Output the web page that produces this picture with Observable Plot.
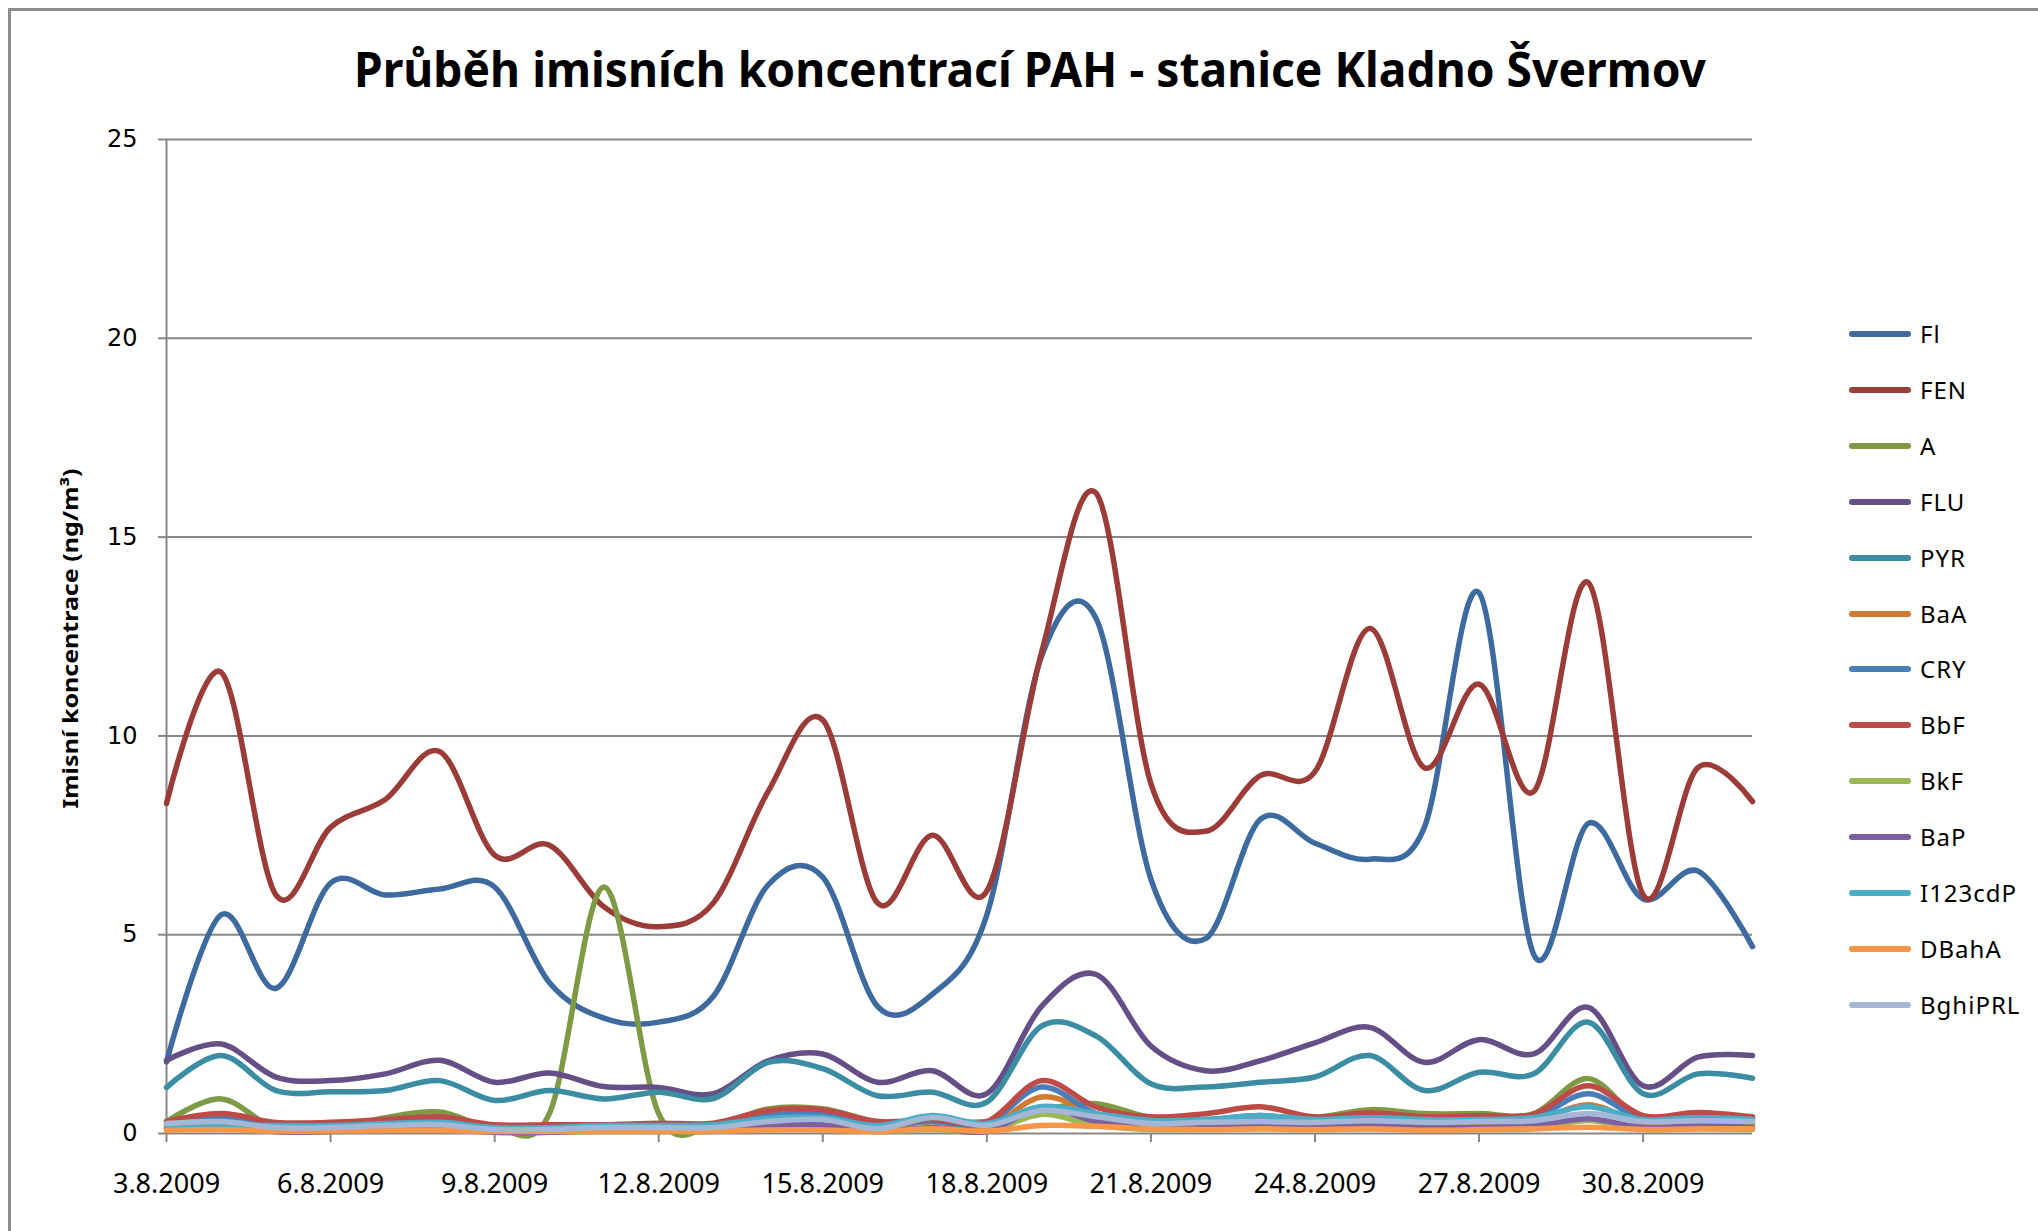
<!DOCTYPE html>
<html>
<head>
<meta charset="utf-8">
<script src="https://cdn.jsdelivr.net/npm/d3@7"></script>
<script src="https://cdn.jsdelivr.net/npm/@observablehq/plot@0.6"></script>
<style>
  html, body { margin: 0; padding: 0; background: #fff; }
  #wrap { position: relative; width: 2038px; height: 1231px; overflow: hidden; background: #fff; }
  #frame { position: absolute; left: 8px; top: 8px; width: 2200px; height: 1400px;
           border-left: 3px solid #8c8c8c; border-top: 3px solid #8c8c8c; }
  #chart { position: absolute; left: 0; top: 0; }
  #title { position: absolute; top: 45px; left: 0; white-space: nowrap;
           font-family: "Noto Sans", "Open Sans", sans-serif; font-weight: 700; font-size: 48px;
           line-height: 1; color: #000; transform-origin: 0 0; }
  #ylabel { position: absolute; white-space: nowrap; font-family: "Noto Sans", sans-serif;
            font-weight: 700; font-size: 21px; line-height: 1; color: #000; }
  #legend { position: absolute; left: 1849px; top: 0; }
  .lg { position: absolute; left: 0; white-space: nowrap; height: 30px; }
  .sw { position: absolute; left: 0; top: 12px; width: 62px; height: 6px; border-radius: 3px; }
  .lt { position: absolute; left: 71px; top: 0; font-family: "Noto Sans", sans-serif; font-size: 24px;
        line-height: 30px; letter-spacing: 1px; color: #000; }
</style>
</head>
<body>
<div id="wrap">
  <div id="frame"></div>
  <div id="chart"></div>
  <div id="title">Průběh imisních koncentrací PAH - stanice Kladno Švermov</div>
  <div id="ylabel">Imisní koncentrace  (ng/m³)</div>
  <div id="legend"></div>
</div>
<script>
// ---- data ----
const dates = ["2009-08-03","2009-08-04","2009-08-05","2009-08-06","2009-08-07","2009-08-08","2009-08-09","2009-08-10","2009-08-11","2009-08-12",
               "2009-08-13","2009-08-14","2009-08-15","2009-08-16","2009-08-17","2009-08-18","2009-08-19","2009-08-20","2009-08-21","2009-08-22",
               "2009-08-23","2009-08-24","2009-08-25","2009-08-26","2009-08-27","2009-08-28","2009-08-29","2009-08-30","2009-08-31","2009-09-01"];
const tickDates = ["2009-08-03","2009-08-06","2009-08-09","2009-08-12","2009-08-15","2009-08-18","2009-08-21","2009-08-24","2009-08-27","2009-08-30"];
const yTicks = [0, 5, 10, 15, 20, 25];

const seriesNames = ["Fl","FEN","A","FLU","PYR","BaA","CRY","BbF","BkF","BaP","I123cdP","DBahA","BghiPRL"];
const seriesColors = ["#3E6B9F","#9C3C39","#7F9A45","#664E86","#3A8DA3","#D27A30","#4A7EBB","#BE4B48","#98B954","#7D60A0","#4BACC6","#F79646","#A5B7D6"];

const Fl   = [1.8, 5.5, 3.65, 6.3, 6.0, 6.15, 6.2, 3.8, 2.9, 2.8, 3.45, 6.25, 6.45, 3.2, 3.5, 5.5, 12.0, 12.95, 6.4, 4.9, 7.9, 7.3, 6.9, 7.7, 13.6, 4.5, 7.8, 5.9, 6.6, 4.7];
const FEN  = [8.3, 11.6, 6.0, 7.7, 8.4, 9.6, 7.0, 7.25, 5.7, 5.2, 5.8, 8.6, 10.4, 5.8, 7.5, 6.1, 12.1, 16.1, 8.8, 7.6, 9.0, 9.1, 12.7, 9.2, 11.3, 8.6, 13.85, 6.0, 9.2, 8.35];
const A    = [0.3, 0.87, 0.12, 0.1, 0.4, 0.54, 0.15, 0.5, 6.2, 0.5, 0.2, 0.62, 0.62, 0.3, 0.3, 0.3, 0.6, 0.75, 0.4, 0.35, 0.4, 0.4, 0.6, 0.5, 0.5, 0.5, 1.38, 0.3, 0.35, 0.3];
const FLU  = [1.84, 2.25, 1.42, 1.33, 1.5, 1.84, 1.29, 1.52, 1.18, 1.16, 1.0, 1.83, 2.0, 1.29, 1.58, 1.0, 3.2, 4.0, 2.2, 1.58, 1.83, 2.28, 2.67, 1.79, 2.36, 2.0, 3.17, 1.2, 1.92, 1.96];
const PYR  = [1.16, 1.96, 1.08, 1.05, 1.08, 1.33, 0.83, 1.08, 0.87, 1.04, 0.88, 1.79, 1.63, 0.95, 1.04, 0.79, 2.7, 2.45, 1.25, 1.17, 1.29, 1.42, 1.96, 1.08, 1.54, 1.5, 2.8, 1.0, 1.5, 1.39];
const BaA  = [0.15, 0.3, 0.1, 0.1, 0.15, 0.2, 0.08, 0.08, 0.12, 0.12, 0.12, 0.35, 0.4, 0.15, 0.3, 0.15, 0.92, 0.5, 0.25, 0.25, 0.35, 0.25, 0.3, 0.25, 0.25, 0.3, 0.72, 0.25, 0.3, 0.25];
const CRY  = [0.3, 0.42, 0.2, 0.2, 0.25, 0.3, 0.15, 0.15, 0.2, 0.2, 0.2, 0.45, 0.5, 0.25, 0.3, 0.25, 1.17, 0.5, 0.35, 0.35, 0.45, 0.35, 0.4, 0.35, 0.35, 0.4, 1.0, 0.35, 0.4, 0.35];
const BbF  = [0.3, 0.5, 0.28, 0.28, 0.35, 0.42, 0.22, 0.22, 0.22, 0.26, 0.26, 0.58, 0.6, 0.3, 0.35, 0.3, 1.33, 0.66, 0.42, 0.5, 0.67, 0.42, 0.52, 0.42, 0.45, 0.48, 1.2, 0.45, 0.53, 0.42];
const BkF  = [0.1, 0.15, 0.05, 0.05, 0.08, 0.1, 0.03, 0.03, 0.05, 0.05, 0.05, 0.12, 0.15, 0.05, 0.1, 0.05, 0.48, 0.2, 0.1, 0.1, 0.12, 0.1, 0.12, 0.1, 0.1, 0.12, 0.33, 0.1, 0.12, 0.1];
const BaP  = [0.12, 0.2, 0.05, 0.05, 0.08, 0.12, 0.03, 0.03, 0.08, 0.08, 0.08, 0.2, 0.22, 0.05, 0.15, 0.05, 0.65, 0.3, 0.15, 0.15, 0.2, 0.15, 0.2, 0.15, 0.15, 0.2, 0.37, 0.15, 0.2, 0.15];
const I123cdP = [0.2, 0.22, 0.2, 0.2, 0.25, 0.28, 0.15, 0.15, 0.2, 0.2, 0.22, 0.38, 0.4, 0.2, 0.45, 0.25, 0.68, 0.5, 0.33, 0.35, 0.45, 0.35, 0.4, 0.35, 0.35, 0.4, 0.67, 0.35, 0.4, 0.35];
const DBahA = [0.08, 0.1, 0.06, 0.06, 0.08, 0.08, 0.05, 0.05, 0.06, 0.06, 0.06, 0.09, 0.09, 0.05, 0.12, 0.06, 0.2, 0.18, 0.12, 0.1, 0.12, 0.1, 0.12, 0.08, 0.1, 0.12, 0.16, 0.1, 0.12, 0.12];
const BghiPRL = [0.25, 0.3, 0.15, 0.15, 0.2, 0.22, 0.1, 0.1, 0.15, 0.15, 0.15, 0.3, 0.35, 0.12, 0.4, 0.2, 0.58, 0.42, 0.25, 0.28, 0.3, 0.28, 0.32, 0.28, 0.3, 0.32, 0.5, 0.3, 0.32, 0.3];

const seriesValues = [Fl, FEN, A, FLU, PYR, BaA, CRY, BbF, BkF, BaP, I123cdP, DBahA, BghiPRL];

// ---- build table ----
const parse = d3.utcParse("%Y-%m-%d");
const rows = seriesNames.flatMap((name, k) =>
  seriesValues[k].map((v, i) => ({ date: parse(dates[i]), value: v, name })));
const fmt = d3.utcFormat("%-d.%-m.%Y");
const grey = "#878787";

const chart = Plot.plot({
  width: 2038,
  height: 1231,
  marginLeft: 166,
  marginRight: 286,
  marginTop: 139,
  marginBottom: 98,
  style: { background: "transparent", overflow: "visible" },
  x: { type: "utc", domain: [parse(dates[0]), parse(dates[dates.length - 1])] },
  y: { domain: [0, 25] },
  color: { domain: seriesNames, range: seriesColors },
  marks: [
    Plot.gridY(yTicks, { stroke: grey, strokeOpacity: 1, strokeWidth: 2 }),
    Plot.ruleX([parse(dates[0])], { stroke: grey, strokeWidth: 2 }),
    Plot.axisY(yTicks, { tickSize: 8, tickPadding: 21, stroke: grey, strokeWidth: 2, fill: "#000",
      fontSize: 24, fontFamily: "DejaVu Sans", label: null, tickFormat: d => String(d) }),
    Plot.axisX(tickDates.map(parse), { tickSize: 9, tickPadding: 31, stroke: grey, strokeWidth: 2, fill: "#000",
      fontSize: 27, fontFamily: "Noto Sans", label: null, tickFormat: fmt }),
    Plot.lineY(rows, { x: "date", y: "value", z: "name", stroke: "name", strokeWidth: 5.5,
      curve: "cardinal", strokeLinecap: "round", strokeLinejoin: "round" })
  ]
});
document.getElementById("chart").appendChild(chart);

// ---- legend ----
const legend = document.getElementById("legend");
seriesNames.forEach((name, k) => {
  const row = document.createElement("div");
  row.className = "lg";
  row.style.top = (334 + 55.9 * k - 15) + "px";
  const sw = document.createElement("span");
  sw.className = "sw";
  sw.style.background = seriesColors[k];
  const lt = document.createElement("span");
  lt.className = "lt";
  lt.textContent = name;
  row.appendChild(sw); row.appendChild(lt);
  legend.appendChild(row);
});

// ---- title fit ----
const title = document.getElementById("title");
const tw = title.getBoundingClientRect().width;
const tk = 1352 / tw;
title.style.left = (1030 - 1352 / 2) + "px";
title.style.transform = `scaleX(${tk})`;

// ---- y label ----
const yl = document.getElementById("ylabel");
const yw = yl.getBoundingClientRect().width;
const yh = yl.getBoundingClientRect().height;
const yk = 340 / yw;
yl.style.left = (71 - yw / 2) + "px";
yl.style.top = (638 - yh / 2) + "px";
yl.style.transform = `rotate(-90deg) scaleX(${yk})`;
</script>
</body>
</html>
